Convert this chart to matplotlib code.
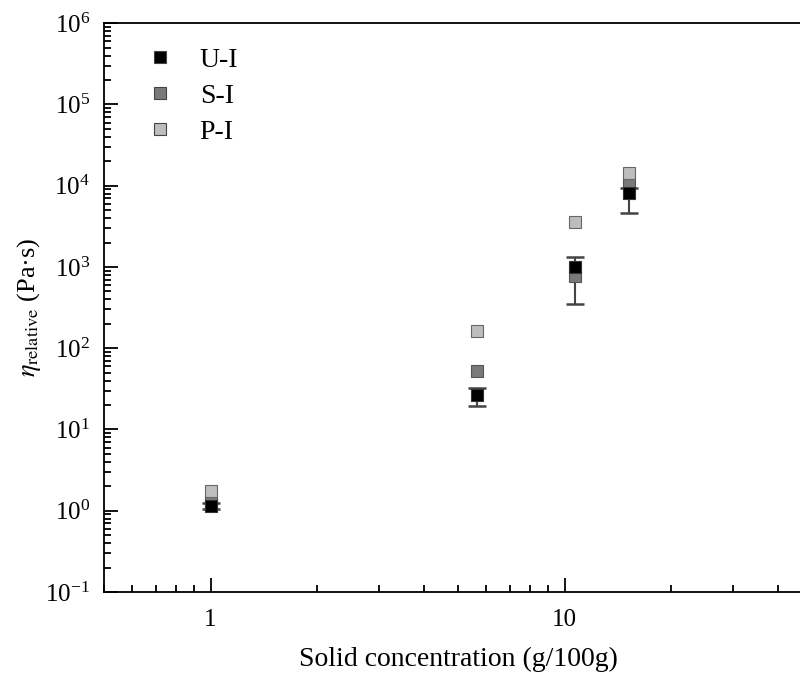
import numpy as np
import matplotlib.pyplot as plt
from matplotlib.ticker import LogLocator, LogFormatterMathtext, NullFormatter, FixedLocator

plt.rcParams['font.family'] = ['Liberation Serif', 'DejaVu Serif']
plt.rcParams['mathtext.fontset'] = 'stix'

# data
conc = [1.0, 5.67, 10.7, 15.2]

ui = [1.15, 26.3, 997, 8180]
ui_lo = [1.05, 19.6, 350, 4600]
ui_hi = [1.25, 32.4, 1309, 9500]

si = [1.3, 52.9, 765, 10800]
pi = [1.77, 165, 3570, 14300]

labels = ["U-I", "S-I", "P-I"]
colors = ["#000000", "#7a7a7a", "#bdbdbd"]

x_major = [1, 10]
y_major = [1e-1, 1e0, 1e1, 1e2, 1e3, 1e4, 1e5, 1e6]

fig = plt.figure(figsize=(8, 6.74), dpi=100)
ax = fig.add_axes([0.13, 0.1217, 0.885, 0.8438])

ui_arr = np.array(ui)
yerr = [ui_arr - np.array(ui_lo), np.array(ui_hi) - ui_arr]
ax.errorbar(conc, ui, yerr=yerr, fmt='none', ecolor='#444444', elinewidth=1.5,
            capsize=6.5, capthick=1.8, zorder=1)

ms = 9
ax.plot(conc, si, 's', color=colors[1], mec='#555555', mew=0.8, ms=ms, zorder=2)
ax.plot(conc, ui, 's', color=colors[0], mec='#333333', mew=0.8, ms=ms, zorder=3)
ax.plot(conc, pi, 's', color=colors[2], mec='#666666', mew=0.8, ms=ms, zorder=4)

# legend in U-I, S-I, P-I order
handles = [plt.Line2D([], [], ls='', marker='s', color=c, mec='#444444', mew=0.8, ms=ms)
           for c in colors]
ax.legend(handles, labels, loc='upper left', bbox_to_anchor=(0.059, 0.958), frameon=False,
          fontsize=20, handlelength=1.0, handletextpad=0.94, labelspacing=0.38,
          borderpad=0, borderaxespad=0)

ax.set_xscale('log')
ax.set_yscale('log')
ax.set_xlim(0.5, 50)
ax.set_ylim(1e-1, 1e6)

ax.yaxis.set_major_locator(FixedLocator(y_major))
ax.yaxis.set_minor_locator(LogLocator(base=10, subs=np.arange(2, 10), numticks=20))
ax.yaxis.set_major_formatter(LogFormatterMathtext())
ax.yaxis.set_minor_formatter(NullFormatter())
ax.xaxis.set_major_locator(FixedLocator(x_major))
ax.xaxis.set_minor_locator(LogLocator(base=10, subs=np.arange(2, 10), numticks=10))
ax.xaxis.set_major_formatter(plt.FuncFormatter(lambda v, p: f"{v:g}"))
ax.xaxis.set_minor_formatter(NullFormatter())

ax.tick_params(which='both', direction='in', labelsize=18, width=1.3, top=False, right=False)
ax.tick_params(which='major', length=10)
ax.tick_params(which='minor', length=5)
ax.tick_params(axis='x', pad=12)
ax.tick_params(axis='y', pad=10)
for s in ax.spines.values():
    s.set_linewidth(1.3)

ax.set_xlabel("Solid concentration (g/100g)", fontsize=20, labelpad=12)
ax.set_ylabel(r"$\eta_{\mathrm{relative}}$ (Pa·s)", fontsize=19, labelpad=2)

fig.savefig("out.png", dpi=100)
